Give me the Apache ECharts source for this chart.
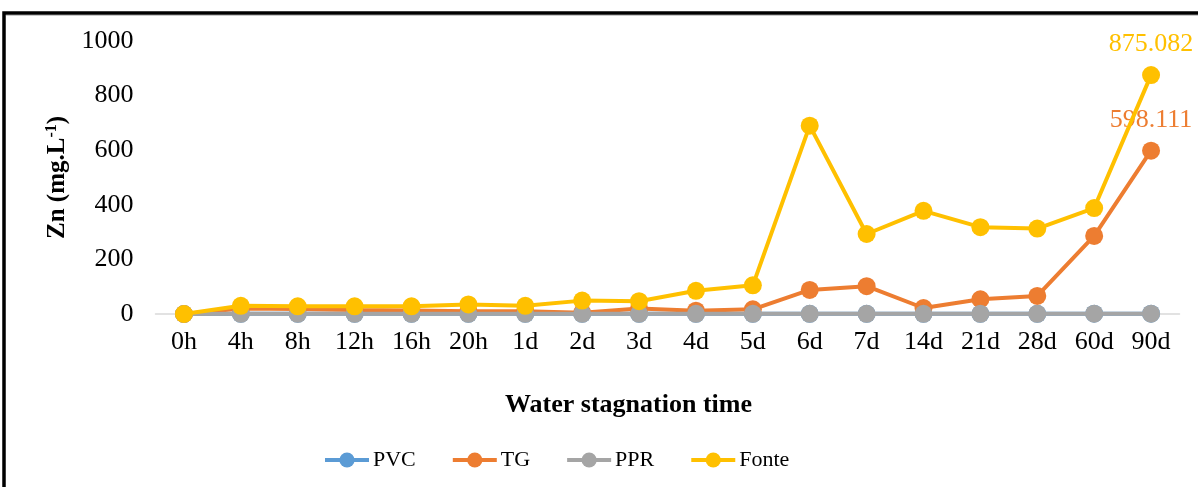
<!DOCTYPE html>
<html><head><meta charset="utf-8">
<script src="https://cdn.jsdelivr.net/npm/echarts@6/dist/echarts.min.js"></script>
<style>html,body{margin:0;padding:0;background:#fff}#c{width:1198px;height:487px}</style>
</head><body><div id="c"></div>
<script>
const categories = ['0h','4h','8h','12h','16h','20h','1d','2d','3d','4d','5d','6d','7d','14d','21d','28d','60d','90d'];
const pvc   = [0,0.5,0.5,0.5,0.5,0.5,0.5,0.5,0.5,0.5,0.5,0.5,0.5,0.5,0.5,0.5,1,1];
const tg    = [0,20,18,15,13,10,10,5,20,12,17,88,102,22,54,66,286,598.111];
const ppr   = [0,0.5,0.5,0.5,0.5,0.5,0.5,0.5,0.5,0.5,0.5,0.5,0.5,0.5,0.5,0.5,1,1];
const fonte = [0,30,28,28,28,35,30,49,47,85,105,690,293,378,318,313,388,875.082];
const yTicks = [0,200,400,600,800,1000];
const seriesNames = ['PVC','TG','PPR','Fonte'];
const colors = ['#5B9BD5','#ED7D31','#A5A5A5','#FFC000'];
const FONT = '"Liberation Serif", "Times New Roman", serif';

const chart = echarts.init(document.getElementById('c'));
const datasets = [pvc, tg, ppr, fonte];
const lastIdx = categories.length - 1;
chart.setOption({
  animation: false,
  textStyle: { fontFamily: FONT },
  graphic: [
    { type: 'rect', shape: { x: 4, y: 13, width: 1300, height: 600 }, style: { fill: 'none', stroke: '#000', lineWidth: 3.5 }, z: 100 },
    { type: 'line', shape: { x1: 6, y1: 15.5, x2: 1198, y2: 15.5 }, style: { stroke: '#c8c8c8', lineWidth: 1 }, z: 99 },
    { type: 'text', left: 505, top: 392, style: { text: 'Water stagnation time', font: 'bold 26px ' + FONT, fill: '#000' } }
  ],
  grid: { left: 155.5, right: 18.5, top: 41, bottom: 173 },
  legend: {
    top: 444, left: 318,
    data: seriesNames,
    itemWidth: 44, itemHeight: 19, itemGap: 35,
    lineStyle: { width: 4 },
    textStyle: { fontSize: 22, color: '#000', fontFamily: FONT, padding: [0,0,0,-1] }
  },
  xAxis: {
    type: 'category', data: categories, boundaryGap: true,
    axisLine: { lineStyle: { color: '#D9D9D9', width: 1.5 } },
    axisTick: { show: false },
    axisLabel: { fontSize: 26, color: '#000', fontFamily: FONT, margin: 15, interval: 0 }
  },
  yAxis: {
    type: 'value', min: yTicks[0], max: yTicks[yTicks.length-1], interval: 200,
    splitLine: { show: false }, axisLine: { show: false }, axisTick: { show: false },
    axisLabel: { fontSize: 26, color: '#000', fontFamily: FONT, margin: 22, formatter: v => String(v) },
    name: '{b|Zn (mg.L}{s|-1}{b|)}', nameLocation: 'middle', nameGap: 84, nameRotate: 90,
    nameTextStyle: {
      rich: {
        b: { fontSize: 25, fontWeight: 'bold', fontFamily: FONT, color: '#000' },
        s: { fontSize: 16, fontWeight: 'bold', fontFamily: FONT, color: '#000', verticalAlign: 'top', padding: [0,0,12,0] }
      }
    }
  },
  series: datasets.map((d, i) => ({
    name: seriesNames[i], type: 'line', data: d,
    symbol: 'circle', symbolSize: 18,
    lineStyle: { color: colors[i], width: 4 },
    itemStyle: { color: colors[i] },
    z: 2 + i,
    label: {
      show: true,
      position: 'top', distance: 9,
      fontSize: 26, fontFamily: FONT, color: colors[i],
      formatter: p => (p.dataIndex === lastIdx && (i === 1 || i === 3)) ? String(p.value) : ''
    }
  }))
});
</script></body></html>
